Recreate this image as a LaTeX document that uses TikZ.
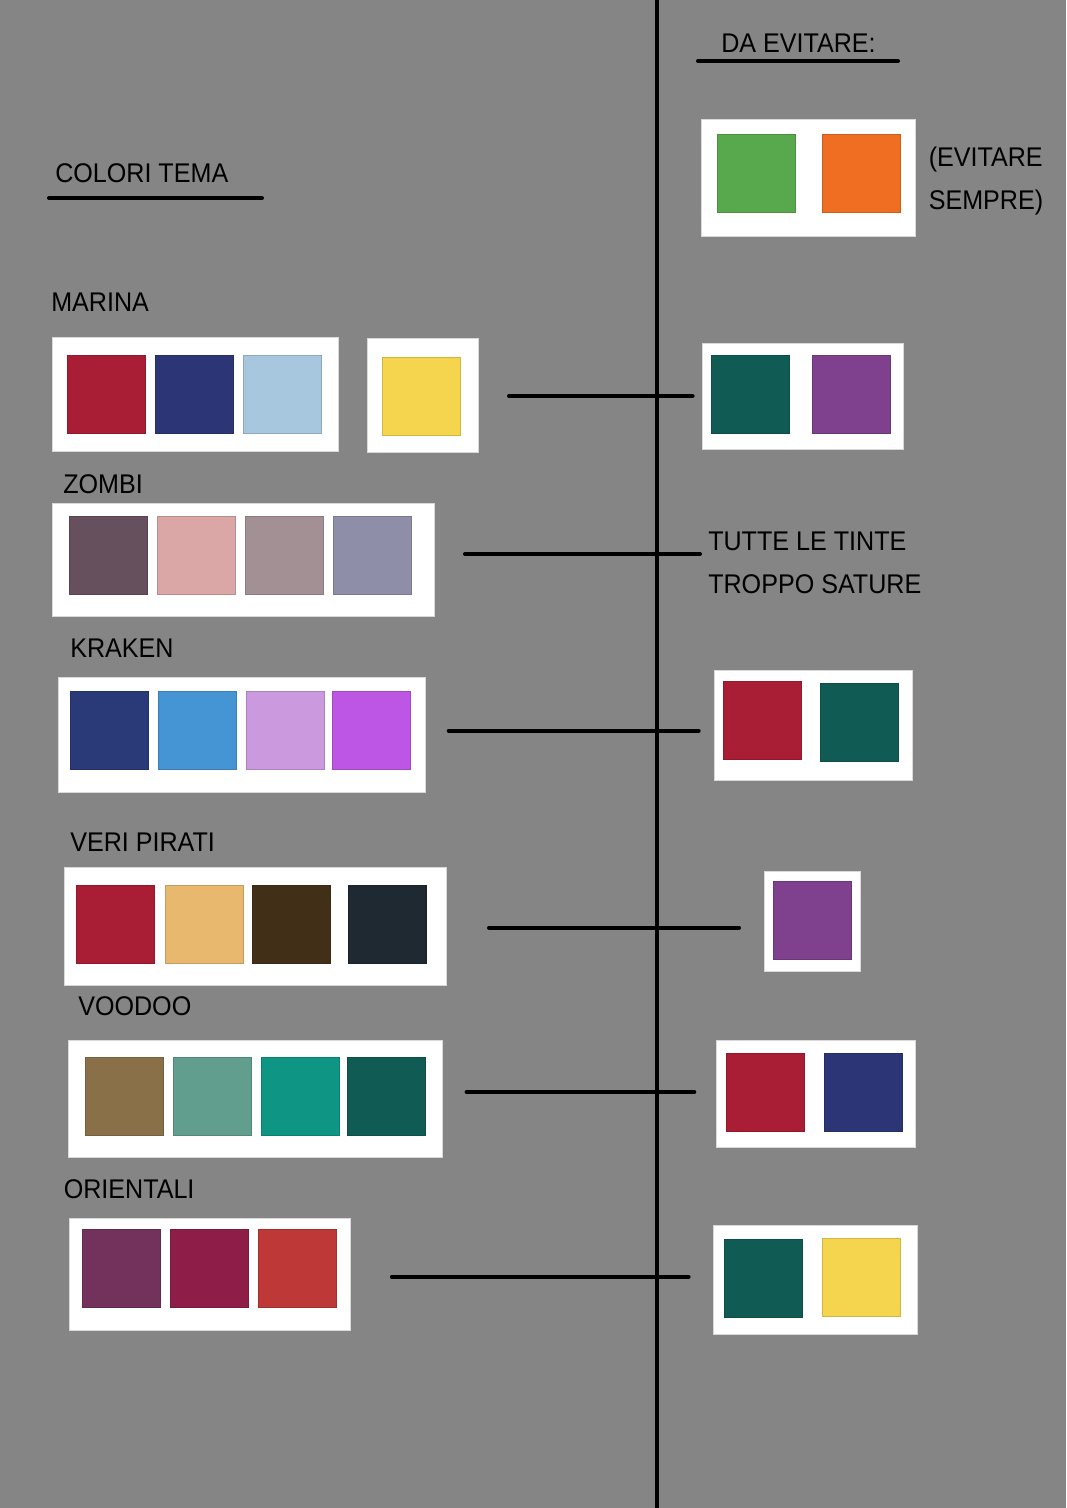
\documentclass[tikz,border=0pt]{standalone}
\usepackage{fontspec}
\setmainfont[FakeStretch=0.93]{Liberation Sans}
\usetikzlibrary{positioning}

\definecolor{bgc}{HTML}{858585}
\definecolor{cred}{HTML}{A91E35}
\definecolor{cnavy}{HTML}{2C3677}
\definecolor{clblue}{HTML}{A7C7DF}
\definecolor{cyellow}{HTML}{F5D54E}
\definecolor{cteal}{HTML}{115B55}
\definecolor{cpurple}{HTML}{7F418E}
\definecolor{cgreen}{HTML}{58A84D}
\definecolor{corange}{HTML}{F06E22}
\definecolor{zA}{HTML}{67505E}
\definecolor{zB}{HTML}{DBA6A6}
\definecolor{zC}{HTML}{A39095}
\definecolor{zD}{HTML}{8F8EA9}
\definecolor{kA}{HTML}{2A3A78}
\definecolor{kB}{HTML}{4595D4}
\definecolor{kC}{HTML}{CB99DD}
\definecolor{kD}{HTML}{BD55E5}
\definecolor{pB}{HTML}{E7B86D}
\definecolor{pC}{HTML}{422F17}
\definecolor{pD}{HTML}{1F2932}
\definecolor{vA}{HTML}{8A7049}
\definecolor{vB}{HTML}{629E8E}
\definecolor{vC}{HTML}{0E9584}
\definecolor{oA}{HTML}{73325C}
\definecolor{oB}{HTML}{8E1E48}
\definecolor{oC}{HTML}{BF3838}

\tikzset{
  lbl/.style={anchor=base west,inner sep=0pt,font=\fontsize{20.25pt}{24pt}\selectfont},
  pbox/.style 2 args={fill=white,draw=white!85!black,line width=0.5pt,inner sep=0pt,
    minimum width=#1*0.75pt,minimum height=#2*0.75pt},
  sw/.style={fill=#1,draw=#1!85!black,line width=0.5pt,inner sep=0pt,minimum size=58.5pt},
  link/.style={line width=3pt,line cap=round,black}
}

\begin{document}
\begin{tikzpicture}[x=0.75pt,y=-0.75pt]
  \useasboundingbox (0,0) rectangle (1066,1508);
  \fill[bgc] (0,0) rectangle (1066,1508);

  % headings
  \node[lbl] (tema) at (55,183) {COLORI TEMA};
  \node[lbl] (evit) at (721,53) {DA EVITARE:};
  \coordinate (temaA) at (49,198);  \coordinate (temaB) at (262,198);
  \coordinate (evitA) at (698,61);  \coordinate (evitB) at (898,61);
  \draw[link] (temaA) -- (temaB);
  \draw[link] (evitA) -- (evitB);

  % middle line
  \coordinate (midT) at (656.5,0); \coordinate (midB) at (656.5,1508);
  \draw[line width=3pt] (midT) -- (midB);

  % always avoid
  \node[pbox={214}{117}] (sempre) at (808,178.3) {};
  \foreach \c/\x in {cgreen/756.5,corange/861.8} \node[sw=\c] at (\x,173.5) {};
  \node[lbl] (semA) at (928.5,167) {(EVITARE};
  \node[lbl] (semB) at (928.5,210) {SEMPRE)};

  % marina
  \node[lbl] (marinaT) at (51,312) {MARINA};
  \node[pbox={286}{114}] (marina) at (195,394) {};
  \foreach \c/\x in {cred/106.6,cnavy/194.3,clblue/282.3} \node[sw=\c] at (\x,394) {};
  \node[pbox={111}{114}] (marinaY) at (423,395.7) {};
  \node[sw=cyellow] at (421.5,396) {};
  \node[pbox={201}{106}] (marinaX) at (802.5,396) {};
  \foreach \c/\x in {cteal/750.8,cpurple/851} \node[sw=\c] at (\x,394.5) {};
  \coordinate (marinaA) at (509,396); \coordinate (marinaB) at (692.6,396);
  \draw[link] (marinaA) -- (marinaB);

  % zombi
  \node[lbl] (zombiT) at (63,493) {ZOMBI};
  \node[pbox={382}{113}] (zombi) at (243.6,559.8) {};
  \foreach \c/\x in {zA/108.8,zB/196.3,zC/284.3,zD/371.9} \node[sw=\c] at (\x,555.4) {};
  \node[lbl] (tinteA) at (708,550) {TUTTE LE TINTE};
  \node[lbl] (tinteB) at (708,593) {TROPPO SATURE};
  \coordinate (zombiA) at (465,554); \coordinate (zombiB) at (700,554);
  \draw[link] (zombiA) -- (zombiB);

  % kraken
  \node[lbl] (krakenT) at (70,657) {KRAKEN};
  \node[pbox={367}{115}] (kraken) at (241.6,735) {};
  \foreach \c/\x in {kA/109.1,kB/197.3,kC/285,kD/371.2} \node[sw=\c] at (\x,730.6) {};
  \node[pbox={198}{110}] (krakenX) at (813,725.3) {};
  \node[sw=cred] at (762.5,720.8) {};
  \node[sw=cteal] at (859.5,722.5) {};
  \coordinate (krakenA) at (448.7,730.7); \coordinate (krakenB) at (698.7,730.7);
  \draw[link] (krakenA) -- (krakenB);

  % veri pirati
  \node[lbl] (piratiT) at (70,851.5) {VERI PIRATI};
  \node[pbox={382}{118}] (pirati) at (255.4,926.6) {};
  \foreach \c/\x in {cred/115.5,pB/203.9,pC/291.5,pD/387.6} \node[sw=\c] at (\x,924.5) {};
  \node[pbox={96}{99.5}] (piratiX) at (811.9,921.3) {};
  \node[sw=cpurple] at (812,920) {};
  \coordinate (piratiA) at (489,927.6); \coordinate (piratiB) at (739,927.6);
  \draw[link] (piratiA) -- (piratiB);

  % voodoo
  \node[lbl] (voodooT) at (78,1015) {VOODOO};
  \node[pbox={374}{117}] (voodoo) at (255.2,1098.8) {};
  \foreach \c/\x in {vA/124.1,vB/212.1,vC/300,cteal/386.4} \node[sw=\c] at (\x,1096.4) {};
  \node[pbox={199}{106.6}] (voodooX) at (815.4,1094) {};
  \foreach \c/\x in {cred/765.1,cnavy/863.6} \node[sw=\c] at (\x,1092.5) {};
  \coordinate (voodooA) at (466.6,1092); \coordinate (voodooB) at (694.3,1092);
  \draw[link] (voodooA) -- (voodooB);

  % orientali
  \node[lbl] (orientT) at (63.5,1198) {ORIENTALI};
  \node[pbox={281}{112}] (orient) at (210.3,1274.5) {};
  \foreach \c/\x in {oA/121.2,oB/209.4,oC/297.2} \node[sw=\c] at (\x,1268.8) {};
  \node[pbox={204}{109}] (orientX) at (814.9,1279.5) {};
  \node[sw=cteal] at (763.3,1278) {};
  \node[sw=cyellow] at (861,1277) {};
  \coordinate (orientA) at (391.9,1276.7); \coordinate (orientB) at (688.6,1276.7);
  \draw[link] (orientA) -- (orientB);
\end{tikzpicture}
\end{document}
